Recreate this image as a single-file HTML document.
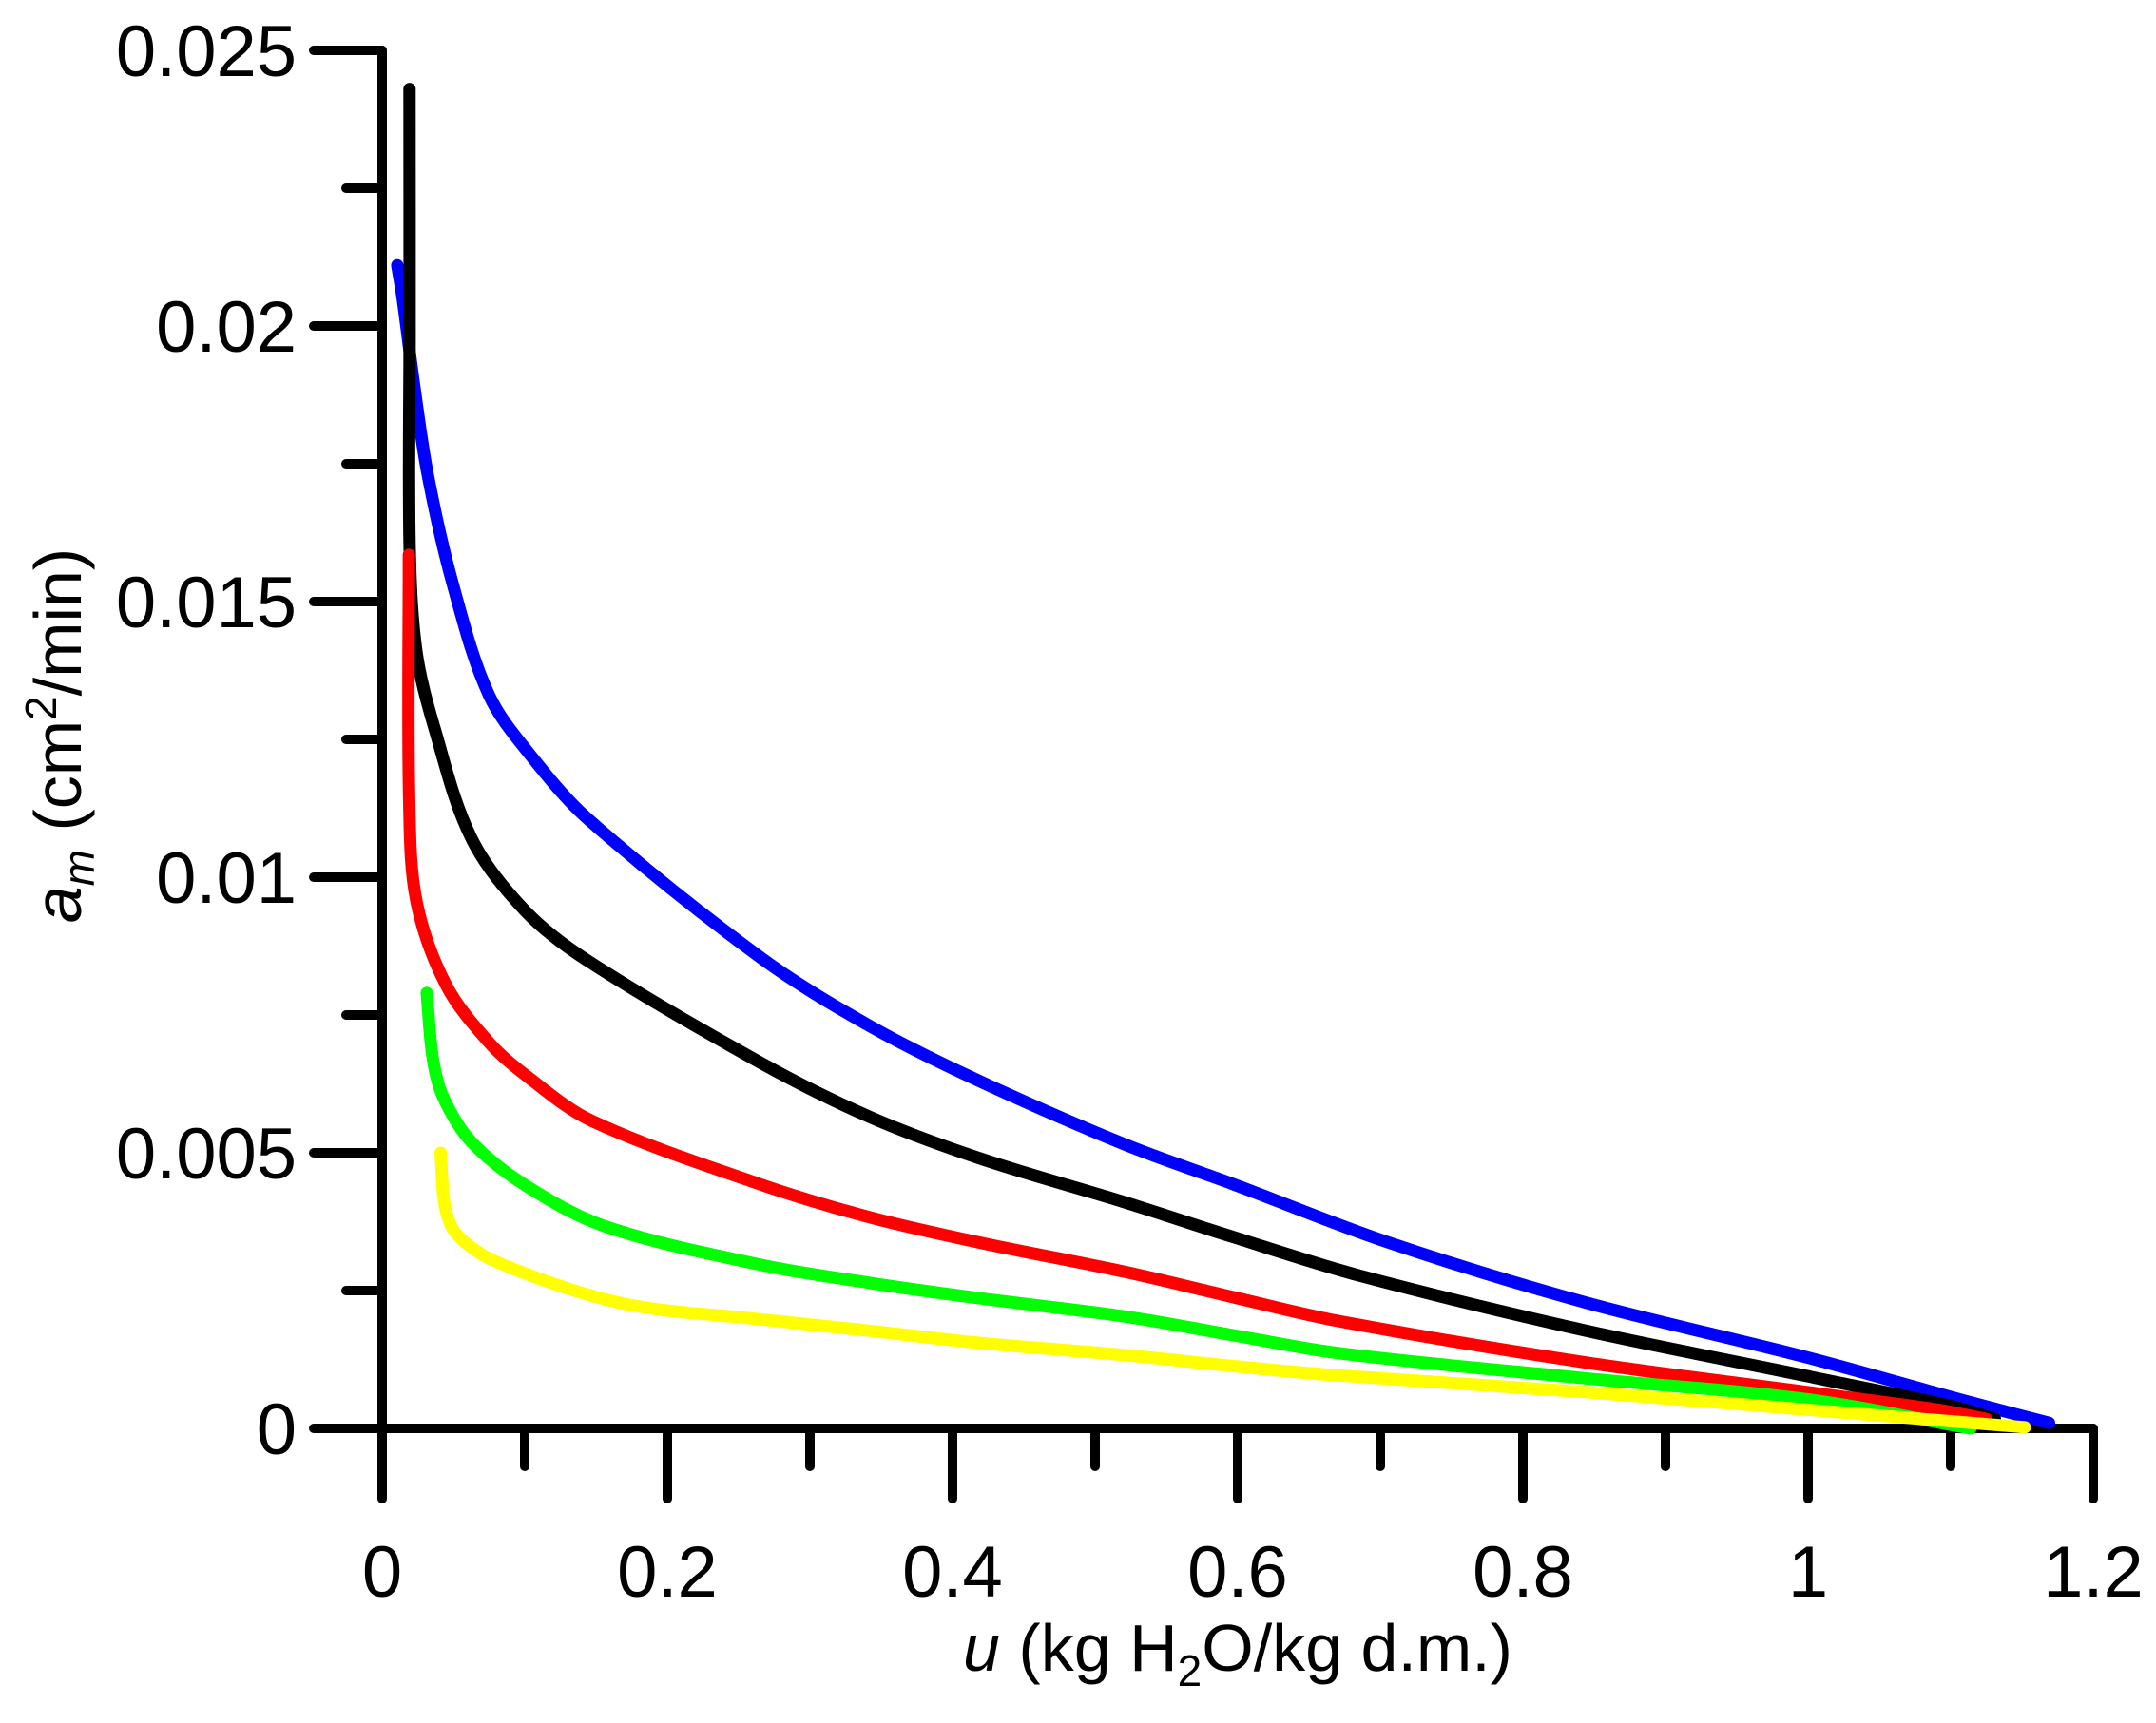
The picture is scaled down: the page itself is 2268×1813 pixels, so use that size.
<!DOCTYPE html>
<html><head><meta charset="utf-8"><style>
body{margin:0;background:#fff}
svg text{font-family:"Liberation Sans",sans-serif;fill:#000}
</style></head><body>
<svg id="chart" width="2268" height="1808" viewBox="0 0 2268 1808" xmlns="http://www.w3.org/2000/svg">
<g id="axes"></g>
<g id="series"></g>
<text x="1302" y="1758" font-size="70" text-anchor="middle"><tspan font-style="italic">u</tspan> (kg H<tspan font-size="46" dy="16">2</tspan><tspan dy="-16">O/kg d.m.)</tspan></text>
<text transform="translate(85,774) rotate(-90)" font-size="70" text-anchor="middle"><tspan font-style="italic">a</tspan><tspan font-style="italic" font-size="46" dy="14">m</tspan><tspan dy="-14"> (cm</tspan><tspan font-size="46" dy="-26">2</tspan><tspan dy="26">/min)</tspan></text>
</svg>
<script>
const xTicks=[0,0.2,0.4,0.6,0.8,1,1.2];
const xTickLabels=["0","0.2","0.4","0.6","0.8","1","1.2"];
const yTicks=[0,0.005,0.01,0.015,0.02,0.025];
const yTickLabels=["0","0.005","0.01","0.015","0.02","0.025"];
const blackU=[0.0192,0.0193,0.0193,0.024,0.0367,0.0627,0.1007,0.145,0.265,0.342,0.419,0.521,0.597,0.687,0.843,0.999,1.101,1.131];
const blackA=[0.0243,0.020,0.016,0.0141,0.0127,0.0107,0.00938,0.00847,0.00664,0.00565,0.0049,0.0041,0.00347,0.00276,0.00178,0.00095,0.0004,0.00017];
const blueU=[0.0106,0.0144,0.022,0.032,0.0497,0.075,0.106,0.145,0.265,0.342,0.419,0.521,0.597,0.705,0.843,0.999,1.107,1.169];
const blueA=[0.0211,0.0205,0.019,0.0173,0.0153,0.0133,0.01215,0.01104,0.00855,0.0073,0.0063,0.00515,0.00443,0.00338,0.00229,0.00129,0.00052,0.0001];
const redU=[0.0187,0.019,0.024,0.0447,0.075,0.101,0.147,0.265,0.342,0.419,0.521,0.597,0.670,0.843,0.999,1.091,1.125];
const redA=[0.01585,0.01136,0.00957,0.00805,0.0070,0.0064,0.00558,0.00443,0.00383,0.00337,0.00284,0.00238,0.00195,0.0012,0.00066,0.00034,0.00017];
const greenU=[0.0313,0.0356,0.043,0.0625,0.101,0.157,0.265,0.342,0.419,0.521,0.597,0.672,0.843,0.999,1.114];
const greenA=[0.0079,0.0067,0.006,0.0052,0.0044,0.00366,0.00297,0.00264,0.00236,0.00203,0.00169,0.00136,0.00091,0.00053,0.0];
const yellowU=[0.041,0.0443,0.053,0.082,0.168,0.265,0.342,0.419,0.521,0.597,0.665,0.843,0.999,1.152];
const yellowA=[0.0050,0.004,0.0035,0.003,0.00227,0.00198,0.00177,0.00155,0.00133,0.00113,0.00097,0.00066,0.00034,0.00002];
const X0=402,XW=1800,Y0=1503,YH=1450;
function sx(v){return X0+v/1.2*XW;}
function sy(v){return Y0-v/0.025*YH;}
const NS="http://www.w3.org/2000/svg";
const axes=document.getElementById('axes');
function ln(x1,y1,x2,y2,name){const l=document.createElementNS(NS,'line');
l.setAttribute('x1',x1);l.setAttribute('y1',y1);l.setAttribute('x2',x2);l.setAttribute('y2',y2);
l.setAttribute('stroke','#000');l.setAttribute('stroke-width','10');l.setAttribute('stroke-linecap','round');


axes.appendChild(l);}
function tx(x,y,s,anchor,name){const t=document.createElementNS(NS,'text');
t.setAttribute('x',x);t.setAttribute('y',y);t.setAttribute('font-size','76');t.setAttribute('text-anchor',anchor);t.textContent=s;


axes.appendChild(t);}
ln(X0,sy(0.025),X0,Y0,'y-axis-line');
ln(X0,Y0,sx(1.2),Y0,'x-axis-line');
xTicks.forEach((v,i)=>{ln(sx(v),Y0,sx(v),Y0+74,'x-tick');tx(sx(v),1680,xTickLabels[i],'middle','x-tick-label');
 if(i<xTicks.length-1){const m=(v+xTicks[i+1])/2;ln(sx(m),Y0,sx(m),Y0+40,'x-minor-tick');}});
yTicks.forEach((v,i)=>{ln(X0-72,sy(v),X0,sy(v),'y-tick');tx(312,sy(v)+27,yTickLabels[i],'end','y-tick-label');
 if(i<yTicks.length-1){const m=(v+yTicks[i+1])/2;ln(X0-38,sy(m),X0,sy(m),'y-minor-tick');}});
const ser=document.getElementById('series');
function unit(a,b){const dx=b[0]-a[0],dy=b[1]-a[1],L=Math.hypot(dx,dy)||1;return [dx/L,dy/L];}
function curve(U,A,color,name){const P=U.map((u,i)=>[sx(u),sy(A[i])]);
const T=P.map((p,i)=>unit(P[i-1]||p,P[i+1]||p));
let d='M'+P[0][0].toFixed(1)+','+P[0][1].toFixed(1);
for(let i=0;i<P.length-1;i++){const p1=P[i],p2=P[i+1];const L=Math.hypot(p2[0]-p1[0],p2[1]-p1[1])/3;
const c1=[p1[0]+T[i][0]*L,p1[1]+T[i][1]*L],c2=[p2[0]-T[i+1][0]*L,p2[1]-T[i+1][1]*L];
d+='C'+c1[0].toFixed(1)+','+c1[1].toFixed(1)+' '+c2[0].toFixed(1)+','+c2[1].toFixed(1)+' '+p2[0].toFixed(1)+','+p2[1].toFixed(1);}
const p=document.createElementNS(NS,'path');p.setAttribute('d',d);p.setAttribute('fill','none');p.setAttribute('stroke',color);
p.setAttribute('stroke-width','13');p.setAttribute('stroke-linecap','round');p.setAttribute('stroke-linejoin','round');


ser.appendChild(p);}
curve(blueU,blueA,'#0000ff','blue-curve');
curve(blackU,blackA,'#000000','black-curve');
curve(redU,redA,'#ff0000','red-curve');
curve(greenU,greenA,'#00ff00','green-curve');
curve(yellowU,yellowA,'#ffff00','yellow-curve');
</script>
</body></html>
